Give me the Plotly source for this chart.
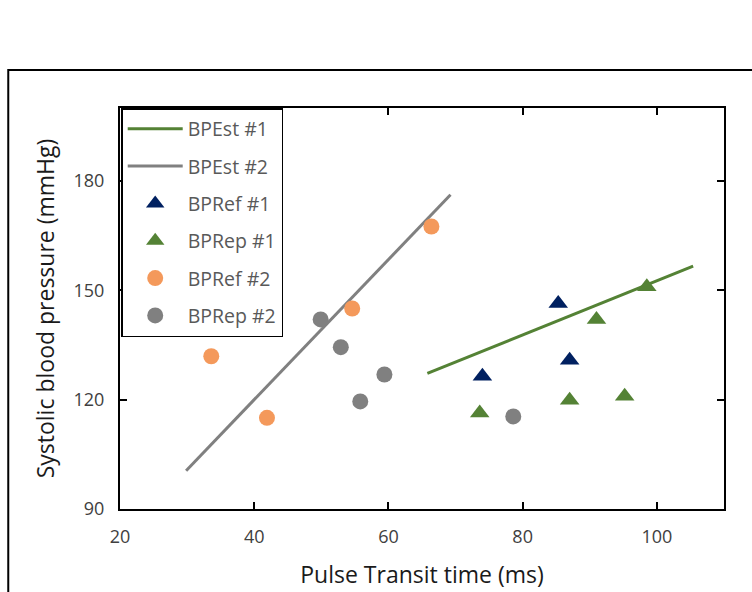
import plotly.graph_objects as go

# Data
est1_x = [65.8, 105.4]
est1_y = [127.2, 156.6]
est2_x = [29.85, 69.25]
est2_y = [100.5, 176.2]

ref1_x = [74.0, 85.3, 87.0]
ref1_y = [126.4, 146.4, 130.8]

rep1_x = [73.6, 87.0, 91.0, 95.2, 98.5]
rep1_y = [116.3, 119.8, 142.0, 120.9, 151.0]

ref2_x = [33.6, 41.9, 54.6, 66.4]
ref2_y = [131.9, 115.0, 145.0, 167.5]

rep2_x = [49.9, 52.9, 55.8, 59.4, 78.6]
rep2_y = [142.0, 134.4, 119.5, 126.9, 115.4]

x_ticks = [20, 40, 60, 80, 100]
y_ticks = [90, 120, 150, 180]

GREEN = "#548235"
GRAY = "#808080"
NAVY = "#002060"
ORANGE = "#F4995B"

fig = go.Figure()
fig.add_trace(go.Scatter(x=est1_x, y=est1_y, mode="lines", name="BPEst #1",
                         line=dict(color=GREEN, width=3), legendgroup="a"))
fig.add_trace(go.Scatter(x=est2_x, y=est2_y, mode="lines", name="BPEst #2",
                         line=dict(color=GRAY, width=3), legendgroup="b"))
fig.add_trace(go.Scatter(x=ref1_x, y=ref1_y, mode="markers", name="BPRef #1",
                         marker=dict(symbol="triangle-up", size=17, color=NAVY), legendgroup="c"))
fig.add_trace(go.Scatter(x=rep1_x, y=rep1_y, mode="markers", name="BPRep #1",
                         marker=dict(symbol="triangle-up", size=17, color=GREEN), legendgroup="d"))
fig.add_trace(go.Scatter(x=ref2_x, y=ref2_y, mode="markers", name="BPRef #2",
                         marker=dict(symbol="circle", size=16, color=ORANGE), legendgroup="e"))
fig.add_trace(go.Scatter(x=rep2_x, y=rep2_y, mode="markers", name="BPRep #2",
                         marker=dict(symbol="circle", size=16, color=GRAY), legendgroup="f"))

FONT = "Open Sans"
axis_common = dict(showgrid=False, zeroline=False, showline=True, linecolor="black",
                   linewidth=2, mirror="ticks", ticks="inside", ticklen=7, tickwidth=1.5,
                   tickcolor="black", ticklabelstandoff=10, automargin=False,
                   tickfont=dict(family=FONT, size=18, color="#404040"))

fig.update_layout(
    width=752, height=592,
    margin=dict(l=120, r=28, t=108, b=83),
    paper_bgcolor="white", plot_bgcolor="white",
    xaxis=dict(range=[20, 110], tickvals=x_ticks,
               title=dict(text="Pulse Transit time (ms)", font=dict(family=FONT, size=23, color="#1a1a1a"),
                          standoff=20),
               **axis_common),
    yaxis=dict(range=[90, 200], tickvals=y_ticks,
               title=dict(text="Systolic blood pressure (mmHg)", font=dict(family=FONT, size=23, color="#1a1a1a"),
                          standoff=12),
               **axis_common),
    legend=dict(x=0.002, y=1.0, xanchor="left", yanchor="top",
                bgcolor="white", bordercolor="black", borderwidth=1.5,
                font=dict(family=FONT, size=19.5, color="#595959"),
                traceorder="grouped", tracegroupgap=9, itemwidth=55),
    shapes=[dict(type="rect", xref="paper", yref="paper",
                 x0=-0.185, x1=1.2, y0=-0.5, y1=1.095,
                 line=dict(color="black", width=2), layer="below")],
)

fig.write_html("out.html")
